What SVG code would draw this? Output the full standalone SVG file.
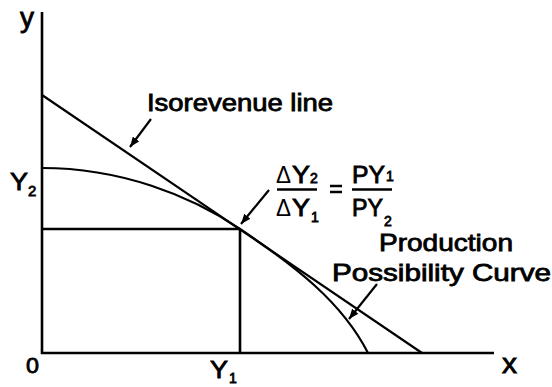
<svg xmlns="http://www.w3.org/2000/svg" width="552" height="387" viewBox="0 0 552 387">
<style>
.t{font-family:"Liberation Sans",Arial,sans-serif;fill:#000;stroke:#000;stroke-width:0.8}
.d{font-family:"Liberation Sans",Arial,sans-serif;fill:#000}
.ln{fill:none;stroke:#000;stroke-width:2.2;stroke-linecap:butt}
.ax{fill:none;stroke:#000;stroke-width:2.6}
.ar{fill:none;stroke:#000;stroke-width:2.2}
</style>
<defs>
<marker id="ah" viewBox="0 0 10 8" refX="10" refY="4" markerWidth="10" markerHeight="8" markerUnits="userSpaceOnUse" orient="auto">
<path d="M0,0 L10,4 L0,8 z" fill="#000"/>
</marker>
</defs>
<g id="axes">
<path class="ax" d="M42,12 L42,353 L494,353"/>
</g>
<g id="connectors">
<path id="isorevenue" class="ln" d="M42,95 L422,353"/>
<path id="ppc" class="ln" d="M42,168 C120,168 190,195 240,229 C295,266 342,302 368,353"/>
<path id="y1-line" class="ax" d="M240,229 L240,353"/>
<path id="y2-line" class="ax" d="M42,229 L240,229"/>
<path class="ar" marker-end="url(#ah)" d="M151,119 L130,147"/>
<path class="ar" marker-end="url(#ah)" d="M269,190 L241,224"/>
<path class="ar" marker-end="url(#ah)" d="M377,284 L349,319"/>
</g>
<g id="labels">
<text class="t" x="20" y="27" font-size="28" textLength="14" lengthAdjust="spacingAndGlyphs">y</text>
<text class="t" x="502" y="373" font-size="27" textLength="15" lengthAdjust="spacingAndGlyphs">x</text>
<text class="t" x="26" y="373" font-size="22" textLength="13" lengthAdjust="spacingAndGlyphs">0</text>
<text class="t" x="10" y="190" font-size="24" textLength="18" lengthAdjust="spacingAndGlyphs">Y</text>
<text class="t" x="28" y="196" font-size="15">2</text>
<text class="t" x="210" y="378" font-size="23" textLength="18" lengthAdjust="spacingAndGlyphs">Y</text>
<text class="t" x="229" y="383" font-size="14">1</text>
<text class="t" x="147" y="111" font-size="23" textLength="186" lengthAdjust="spacingAndGlyphs">Isorevenue line</text>
<text class="t" x="379" y="251" font-size="24" textLength="134" lengthAdjust="spacingAndGlyphs">Production</text>
<text class="t" x="332" y="281" font-size="24" textLength="219" lengthAdjust="spacingAndGlyphs">Possibility Curve</text>
</g>
<g id="formula">
<text class="d" x="276" y="183" font-size="23" textLength="15" lengthAdjust="spacingAndGlyphs">Δ</text>
<text class="t" x="292" y="183" font-size="23" textLength="18" lengthAdjust="spacingAndGlyphs">Y</text>
<text class="t" x="310" y="183" font-size="14">2</text>
<path class="ax" d="M277,189.5 L317,189.5"/>
<text class="d" x="276" y="216" font-size="23" textLength="15" lengthAdjust="spacingAndGlyphs">Δ</text>
<text class="t" x="292" y="216" font-size="23" textLength="18" lengthAdjust="spacingAndGlyphs">Y</text>
<text class="t" x="311" y="222" font-size="14">1</text>
<path class="ax" d="M330,186 L342,186 M330,192 L342,192" stroke-width="2.2"/>
<text class="t" x="352" y="183" font-size="23" textLength="33" lengthAdjust="spacingAndGlyphs">PY</text>
<text class="t" x="386" y="181" font-size="14">1</text>
<path class="ax" d="M352,189.5 L392,189.5"/>
<text class="t" x="352" y="216" font-size="23" textLength="31" lengthAdjust="spacingAndGlyphs">PY</text>
<text class="t" x="384" y="226" font-size="14">2</text>
</g>
</svg>
